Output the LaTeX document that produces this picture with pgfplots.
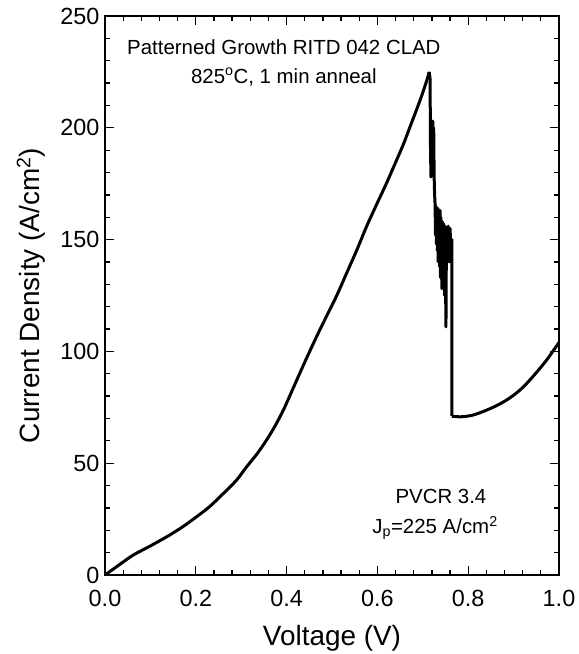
\documentclass[border=0pt]{standalone}
\usepackage{fontspec}
\setmainfont{Liberation Sans}
\usepackage{pgfplots}
\pgfplotsset{compat=1.18}
\begin{document}
\begin{tikzpicture}
\begin{axis}[
  scale only axis,
  width=454bp, height=559bp,
  xmin=0, xmax=1, ymin=0, ymax=250,
  xtick={0,0.2,0.4,0.6,0.8,1.0},
  ytick={0,50,100,150,200,250},
  minor x tick num=4,
  minor y tick num=4,
  tick align=inside,
  xtick pos=both, ytick pos=both,
  major tick length=9bp,
  minor tick length=5bp,
  tick style={black, line width=1.3bp},
  axis line style={line width=1.6bp},
  /pgf/number format/assume math mode=true,
  xticklabel style={/pgf/number format/fixed, /pgf/number format/fixed zerofill, /pgf/number format/precision=1, yshift=-12bp},
  yticklabel style={xshift=-2bp},
  tick label style={font=\fontsize{23.5}{27}\selectfont},
  label style={font=\fontsize{28}{32}\selectfont},
  xlabel={Voltage (V)},
  ylabel={Current Density (A/cm\textsuperscript{2})},
  xlabel style={at={(axis description cs:0.5,-0.113)}, anchor=center},
  ylabel style={at={(axis description cs:-0.163,0.5)}, anchor=center, rotate=0},
]
\addplot[black, line width=3bp, line join=round, smooth, tension=0.5] coordinates {
(0,0) (0.031,4.5) (0.062,8.9) (0.10,13.0) (0.136,17.1) (0.17,21.4) (0.202,26.1)
(0.23,30.5) (0.261,36.5) (0.29,42.5) (0.312,48.4) (0.335,54.2) (0.356,60.4)
(0.375,66.8) (0.393,73.8) (0.41,81.5) (0.429,90.2) (0.447,98.3) (0.466,106.6)
(0.485,114.5) (0.51,124.8) (0.532,134.9) (0.555,145.5) (0.576,155.8) (0.598,165.6)
(0.620,175.2) (0.64,184.5) (0.657,192.5) (0.672,200.5) (0.687,208.5) (0.697,214)
(0.705,218.8) (0.710,222) (0.714,225)
};
\addplot[black, line width=3bp, line join=round] coordinates {
(0.714,225)
(0.716,222) (0.717,190) (0.718,178) (0.719,200) (0.720,180) (0.722,203)
(0.723,185) (0.724,200) (0.725,178) (0.726,170) (0.727,166) (0.728,152)
(0.729,165) (0.730,148) (0.731,163) (0.732,145) (0.733,164) (0.734,140)
(0.735,162) (0.737,138) (0.738,163) (0.739,133) (0.740,160) (0.742,128)
(0.743,158) (0.745,135) (0.746,157) (0.748,125) (0.749,156) (0.751,111)
(0.752,150) (0.754,145) (0.756,156) (0.758,140) (0.760,155) (0.762,145)
(0.764,150) (0.764,71)
};
\addplot[black, line width=3bp, line join=round, smooth, tension=0.5] coordinates {
(0.764,71) (0.775,70.8) (0.789,70.8) (0.81,71.5) (0.833,73.1) (0.86,75.5) (0.885,78.3)
(0.91,82) (0.929,85.7) (0.95,90.5) (0.973,96.2) (1.0,104)
};
\node[font=\fontsize{20.5}{24}\selectfont, align=center] at (axis cs:0.394,236) {Patterned Growth RITD 042 CLAD};
\node[font=\fontsize{20.5}{24}\selectfont, align=center] at (axis cs:0.394,222.7) {825\textsuperscript{o}C, 1 min anneal};
\node[font=\fontsize{20.5}{24}\selectfont] at (axis cs:0.740,34.9) {PVCR 3.4};
\node[font=\fontsize{20.5}{24}\selectfont] at (axis cs:0.727,21) {J\textsubscript{p}=225 A/cm\textsuperscript{2}};
\end{axis}
\pgfresetboundingbox
\path[use as bounding box] (current axis.south west) ++(-105bp,-79bp) rectangle ++(579bp,654bp);
\end{tikzpicture}
\end{document}
